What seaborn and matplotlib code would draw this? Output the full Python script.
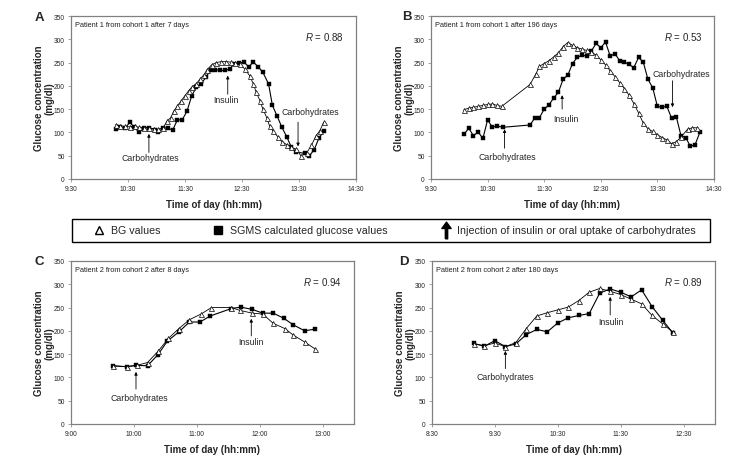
import numpy as np
import pandas as pd
import matplotlib
matplotlib.use("Agg")
import matplotlib.pyplot as plt
import seaborn as sns
from matplotlib.lines import Line2D
from matplotlib.patches import Rectangle
from matplotlib.path import Path
from matplotlib.ticker import FixedLocator, FuncFormatter

# ---- data (time of day, glucose mg/dl) ----
# Panel A: patient 1, cohort 1, after 7 days
a_bg_time = ['10:17', '10:22', '10:27', '10:32', '10:37', '10:42', '10:47', '10:52', '10:57', '11:02', '11:07',
             '11:11', '11:15', '11:18', '11:22', '11:26', '11:30', '11:34', '11:37', '11:42', '11:46', '11:50', '11:53',
             '11:58', '12:03', '12:08', '12:13', '12:18', '12:23', '12:28',
             '12:33', '12:38', '12:42', '12:45', '12:49', '12:52', '12:56', '12:59',
             '13:03', '13:08', '13:12', '13:17', '13:22', '13:27', '13:32', '13:38', '13:43', '13:48', '13:52', '13:56']
a_bg = [117, 114, 113, 112, 113, 111, 110, 110, 108, 107, 110,
        124, 132, 145, 157, 168, 179, 190, 197, 205, 215, 224, 234,
        245, 250, 252, 252, 251, 249, 246,
        236, 222, 204, 186, 168, 150, 132, 114,
        102, 90, 80, 74, 68, 64, 50, 56, 72, 93, 104, 122]
a_sg_time = ['10:17', '10:22', '10:27', '10:32', '10:36', '10:42', '10:47', '10:52', '10:58', '11:02', '11:07', '11:12', '11:17',
             '11:22', '11:27', '11:32', '11:37', '11:42', '11:47', '11:52', '11:57', '12:02', '12:07', '12:12', '12:17',
             '12:22', '12:27', '12:32', '12:37', '12:42', '12:47', '12:52', '12:58', '13:02', '13:07', '13:12', '13:17', '13:22',
             '13:27', '13:36', '13:41', '13:46', '13:51', '13:56']
a_sg = [107, 111, 109, 122, 112, 100, 110, 110, 106, 100, 110, 109, 105,
        127, 127, 145, 178, 198, 205, 218, 235, 235, 233, 233, 236,
        248, 249, 251, 241, 251, 241, 229, 204, 158, 135, 111, 91, 68,
        58, 55, 50, 63, 88, 102]

# Panel B: patient 1, cohort 1, after 196 days
b_bg_time = ['10:05', '10:10', '10:15', '10:20', '10:25', '10:30', '10:35', '10:40', '10:45',
             '11:15', '11:21', '11:25', '11:30', '11:35', '11:40', '11:45', '11:50', '11:55',
             '12:00', '12:05', '12:10', '12:15', '12:20', '12:25', '12:30', '12:35', '12:40', '12:45', '12:50', '12:55',
             '13:00', '13:05', '13:10', '13:15', '13:20', '13:25', '13:30', '13:35', '13:40', '13:45', '13:50', '13:55',
             '14:02', '14:07', '14:12']
b_bg = [149, 152, 154, 156, 158, 160, 161, 158, 156,
        203, 225, 242, 248, 254, 262, 271, 284, 293,
        287, 282, 279, 276, 273, 266, 256, 245, 232, 220, 207, 194,
        180, 162, 142, 120, 108, 102, 95, 89, 84, 76, 80, 90,
        107, 110, 110]
b_sg_time = ['10:05', '10:10', '10:15', '10:20', '10:25', '10:30', '10:35', '10:40', '10:46',
             '11:15', '11:20', '11:25', '11:30', '11:35', '11:40', '11:45', '11:50', '11:55',
             '12:00', '12:05', '12:10', '12:15', '12:20', '12:25', '12:30', '12:35', '12:40', '12:45', '12:50', '12:55',
             '13:00', '13:05', '13:10', '13:15', '13:20', '13:25', '13:30', '13:35', '13:40', '13:45', '13:50', '13:55',
             '14:00', '14:05', '14:10', '14:15']
b_sg = [96, 109, 93, 101, 87, 127, 111, 114, 111,
        116, 131, 132, 150, 159, 174, 186, 214, 223,
        248, 261, 266, 264, 275, 291, 282, 294, 264, 269, 254, 251,
        246, 239, 261, 251, 214, 196, 156, 154, 156, 131, 134, 93,
        89, 70, 74, 100]

# Panel C: patient 2, cohort 2, after 8 days
c_bg_time = ['9:40', '9:53', '10:03', '10:13', '10:23', '10:33', '10:43', '10:53', '11:04', '11:14',
             '11:33', '11:41', '11:53', '12:03', '12:13', '12:24', '12:32', '12:43', '12:53']
c_bg = [125, 123, 126, 132, 156, 184, 205, 224, 236, 250, 250, 244, 238, 236, 216, 205, 191, 176, 161]
c_sg_time = ['9:40', '9:53', '10:02', '10:13', '10:23', '10:32', '10:43', '10:53', '11:03', '11:13',
             '11:33', '11:42', '11:53', '12:03', '12:13', '12:23', '12:32', '12:43', '12:53']
c_sg = [125, 123, 126, 125, 149, 178, 198, 219, 219, 232, 248, 251, 246, 238, 238, 227, 213, 200, 204]

# Panel D: patient 2, cohort 2, after 180 days
d_time = ['9:10', '9:20', '9:30', '9:40', '9:50', '10:00', '10:10', '10:20', '10:30', '10:40',
          '10:50', '11:00', '11:10', '11:20', '11:30', '11:40', '11:50', '12:00', '12:10', '12:20']
d_bg = [172, 168, 174, 166, 175, 205, 232, 239, 245, 251, 265, 283, 291, 285, 278, 268, 258, 233, 215, 197]
d_sg = [173, 167, 179, 166, 172, 192, 203, 198, 217, 228, 233, 237, 281, 290, 283, 273, 288, 252, 223, 195]

panel_letters = ['A', 'B', 'C', 'D']
panel_titles = ['Patient 1 from cohort 1 after 7 days', 'Patient 1 from cohort 1 after 196 days',
                'Patient 2 from cohort 2 after 8 days', 'Patient 2 from cohort 2 after 180 days']
r_values = ['0.88', '0.53', '0.94', '0.89']
x_ranges = [('9:30', '14:30'), ('9:30', '14:30'), ('9:00', '13:30'), ('8:30', '13:00')]

# annotations: (label, arrow time, arrow tail, arrow tip, text time, text value)
a_notes = [('Carbohydrates', '10:52', 57, 97, '10:54', 47),
           ('Insulin', '12:15', 182, 222, '12:13', 170),
           ('Carbohydrates', '13:29', 122, 70, '13:42', 145)]
b_notes = [('Carbohydrates', '10:48', 66, 107, '10:51', 48),
           ('Insulin', '11:49', 150, 180, '11:53', 130),
           ('Carbohydrates', '13:46', 211, 154, '13:55', 227)]
c_notes = [('Carbohydrates', '10:02', 75, 112, '10:05', 57),
           ('Insulin', '11:52', 189, 226, '11:52', 178)]
d_notes = [('Carbohydrates', '9:40', 119, 157, '9:40', 101),
           ('Insulin', '11:20', 234, 273, '11:21', 221)]


def to_min(s):
    h, m = s.split(':')
    return int(h) * 60 + int(m)


def fmt_time(m, pos=None):
    m = int(round(m))
    return f"{m // 60}:{m % 60:02d}"


sns.set_style("ticks")
plt.rcParams['font.family'] = ['Liberation Sans', 'DejaVu Sans']
plt.rcParams['mathtext.fontset'] = 'custom'
plt.rcParams['mathtext.it'] = 'Liberation Sans:italic'
plt.rcParams['mathtext.rm'] = 'Liberation Sans'

fig = plt.figure(figsize=(7.48, 4.64), dpi=100)


def frac(l, t, r, b):
    return [l / 748, 1 - b / 464, (r - l) / 748, (b - t) / 464]


boxes = [frac(71, 17, 356, 180), frac(431, 17, 714, 180),
         frac(71, 262, 354, 425), frac(432, 262, 715, 425)]
letter_pos = [(39, 18), (407, 17), (39, 262), (404, 262)]

series = [(a_bg_time, a_bg, a_sg_time, a_sg, a_notes),
          (b_bg_time, b_bg, b_sg_time, b_sg, b_notes),
          (c_bg_time, c_bg, c_sg_time, c_sg, c_notes),
          (d_time, d_bg, d_time, d_sg, d_notes)]

for i, (bg_t, bg_v, sg_t, sg_v, notes) in enumerate(series):
    ax = fig.add_axes(boxes[i])
    bg = pd.DataFrame({'time': [to_min(t) for t in bg_t], 'glucose': bg_v})
    sg = pd.DataFrame({'time': [to_min(t) for t in sg_t], 'glucose': sg_v})

    sns.lineplot(data=bg, x='time', y='glucose', ax=ax, color='black', lw=0.6,
                 marker='^', markersize=3.6, markerfacecolor='white',
                 markeredgecolor='black', markeredgewidth=0.5, zorder=3)
    sns.lineplot(data=sg, x='time', y='glucose', ax=ax, color='black', lw=0.8,
                 marker='s', markersize=3.0, markerfacecolor='black',
                 markeredgecolor='black', markeredgewidth=0.3, zorder=2)

    x0, x1 = to_min(x_ranges[i][0]), to_min(x_ranges[i][1])
    ax.set_xlim(x0, x1)
    ax.set_ylim(0, 350)
    ax.xaxis.set_major_locator(FixedLocator(np.arange(x0, x1 + 1, 60)))
    ax.xaxis.set_major_formatter(FuncFormatter(fmt_time))
    ax.set_yticks(np.arange(0, 351, 50))

    for sp in ax.spines.values():
        sp.set_color('#808080')
        sp.set_linewidth(0.9)
    ax.tick_params(axis='both', labelsize=4.8, length=2, width=0.5,
                   color='#808080', pad=2.5)

    ax.set_xlabel('Time of day (hh:mm)', fontsize=7, fontweight='bold', labelpad=5)
    ax.set_ylabel('Glucose concentration\n(mg/dl)', fontsize=7, fontweight='bold',
                  linespacing=1.05)
    ax.yaxis.set_label_coords(-0.058, 0.5)

    ax.text(0.014, 0.95, panel_titles[i], transform=ax.transAxes, fontsize=5.3,
            ha='left', va='center', color='#222222')
    ax.text(0.958, 0.875, r'$R$ = ' + r_values[i], transform=ax.transAxes,
            fontsize=7, ha='right', va='center')

    for label, at, tail, tip, tt, tv in notes:
        ax.annotate('', xy=(to_min(at), tip), xytext=(to_min(at), tail),
                    arrowprops=dict(arrowstyle='-|>', color='black', lw=0.6,
                                    mutation_scale=4.5, shrinkA=0, shrinkB=0))
        ax.text(to_min(tt), tv, label, fontsize=6.3, ha='center', va='center')

    lx, ly = letter_pos[i]
    fig.text(lx / 748, 1 - ly / 464, panel_letters[i], fontsize=9.5,
             fontweight='bold', ha='center', va='center')

# legend between the two rows: frame drawn as a box, entries placed inside it
fig.add_artist(Rectangle((72 / 748, 1 - 243 / 464), 638 / 748, 23 / 464,
                         transform=fig.transFigure, fill=False,
                         edgecolor='black', lw=1.0))
arrow_path = Path([(-0.07, -0.5), (0.07, -0.5), (0.07, 0.12), (0.28, 0.12), (0.0, 0.5),
                   (-0.28, 0.12), (-0.07, 0.12), (-0.07, -0.5)])
handles = [Line2D([], [], ls='none', marker='^', markersize=6, markerfacecolor='white',
                  markeredgecolor='black', markeredgewidth=1.0),
           Line2D([], [], ls='none', marker='s', markersize=6, color='black'),
           Line2D([], [], ls='none', marker=arrow_path, markersize=12, color='black')]
labels = ['BG values', 'SGMS calculated glucose values',
          'Injection of insulin or oral uptake of carbohydrates']
leg = fig.legend(handles, labels, loc='center left', ncol=3,
                 bbox_to_anchor=(94 / 748, 1 - 231.5 / 464),
                 frameon=False, fontsize=7.7, handlelength=1.0, handletextpad=0.6,
                 columnspacing=4.9, borderaxespad=0, borderpad=0)

fig.savefig('out.png', dpi=100)
